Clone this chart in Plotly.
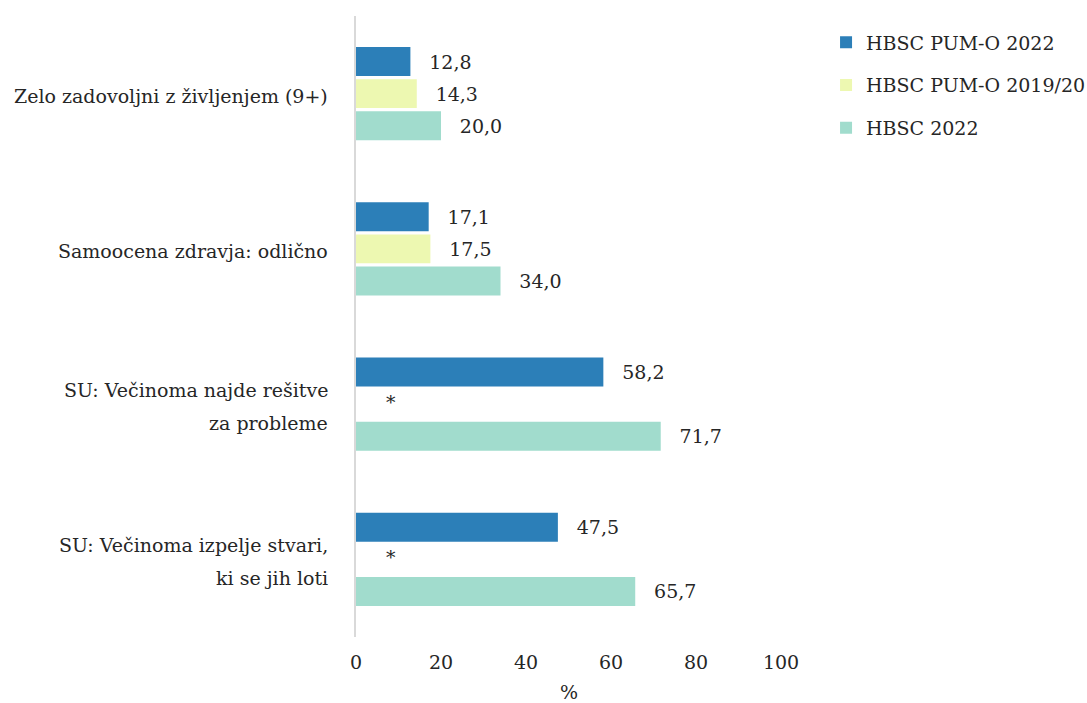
import plotly.graph_objects as go

# Category labels (each entry is one line of the label)
category_lines = [
    ["Zelo zadovoljni z življenjem (9+)"],
    ["Samoocena zdravja: odlično"],
    ["SU: Večinoma najde rešitve", "za probleme"],
    ["SU: Večinoma izpelje stvari,", "ki se jih loti"],
]
categories = [" ".join(lines) for lines in category_lines]

series_names = ["HBSC PUM-O 2022", "HBSC PUM-O 2019/20", "HBSC 2022"]
pumo_2022 = [12.8, 17.1, 58.2, 47.5]
pumo_2019 = [14.3, 17.5, None, None]
hbsc_2022 = [20.0, 34.0, 71.7, 65.7]

x_ticks = [0, 20, 40, 60, 80, 100]

colors = ["#2c7fb8", "#edf8b1", "#a1dccd"]
FONT = "DejaVu Serif"
FS = 19
TEXT_COLOR = "#262626"
PAD = "\u00a0\u00a0\u2009"


def fmt(v):
    return None if v is None else PAD + f"{v:.1f}".replace(".", ",")


fig = go.Figure()
for i, (name, vals) in enumerate(zip(series_names, [pumo_2022, pumo_2019, hbsc_2022])):
    fig.add_trace(go.Bar(
        y=categories, x=vals, name=name, orientation="h",
        marker=dict(color=colors[i], line=dict(width=0)),
        text=[fmt(v) for v in vals], textposition="outside",
        textfont=dict(family=FONT, size=FS, color=TEXT_COLOR),
        constraintext="none", cliponaxis=False,
        legendgroup=f"g{i}", hoverinfo="skip",
    ))

annotations = []
# Category labels drawn line by line for wider line spacing
for cat, lines in zip(categories, category_lines):
    n = len(lines)
    for j, line in enumerate(lines):
        annotations.append(dict(
            text=line, xref="paper", yref="y", x=-0.062, y=cat,
            xanchor="right", yanchor="middle", showarrow=False,
            yshift=((n - 1) / 2 - j) * 33 - 2.5,
            font=dict(family=FONT, size=FS, color=TEXT_COLOR),
        ))

# Asterisk where no 2019/20 value exists
for cat, v in zip(categories, pumo_2019):
    if v is None:
        annotations.append(dict(
            text="*", x=0, y=cat, xref="x", yref="y", xshift=35, yshift=2,
            showarrow=False, font=dict(family=FONT, size=FS, color=TEXT_COLOR),
        ))

annotations.append(dict(
    text="%", xref="paper", yref="paper", x=0.5, y=-0.088, yanchor="middle",
    showarrow=False, font=dict(family=FONT, size=FS, color=TEXT_COLOR),
))

fig.update_layout(
    width=1087, height=703,
    margin=dict(l=356, r=306, t=16, b=66, autoexpand=False),
    paper_bgcolor="white", plot_bgcolor="white",
    barmode="group", bargap=0.38, bargroupgap=0.1,
    font=dict(family=FONT, size=FS, color=TEXT_COLOR),
    showlegend=True,
    legend=dict(
        x=1.106, y=0.988, xanchor="left", yanchor="top",
        traceorder="grouped", tracegroupgap=15,
        font=dict(family=FONT, size=FS, color=TEXT_COLOR),
        itemwidth=30,
    ),
    annotations=annotations,
)
fig.update_xaxes(
    range=[0, 100], tickvals=x_ticks, ticktext=[str(t) for t in x_ticks],
    showgrid=False, zeroline=False, showline=False, ticks="",
    ticklabelstandoff=12,
    tickfont=dict(family=FONT, size=FS, color=TEXT_COLOR),
)
fig.update_yaxes(
    categoryorder="array", categoryarray=categories, autorange="reversed",
    showticklabels=False, showgrid=False, zeroline=False,
    showline=True, linecolor="#d9d9d9", linewidth=2, ticks="",
)

fig.write_html("out.html")
